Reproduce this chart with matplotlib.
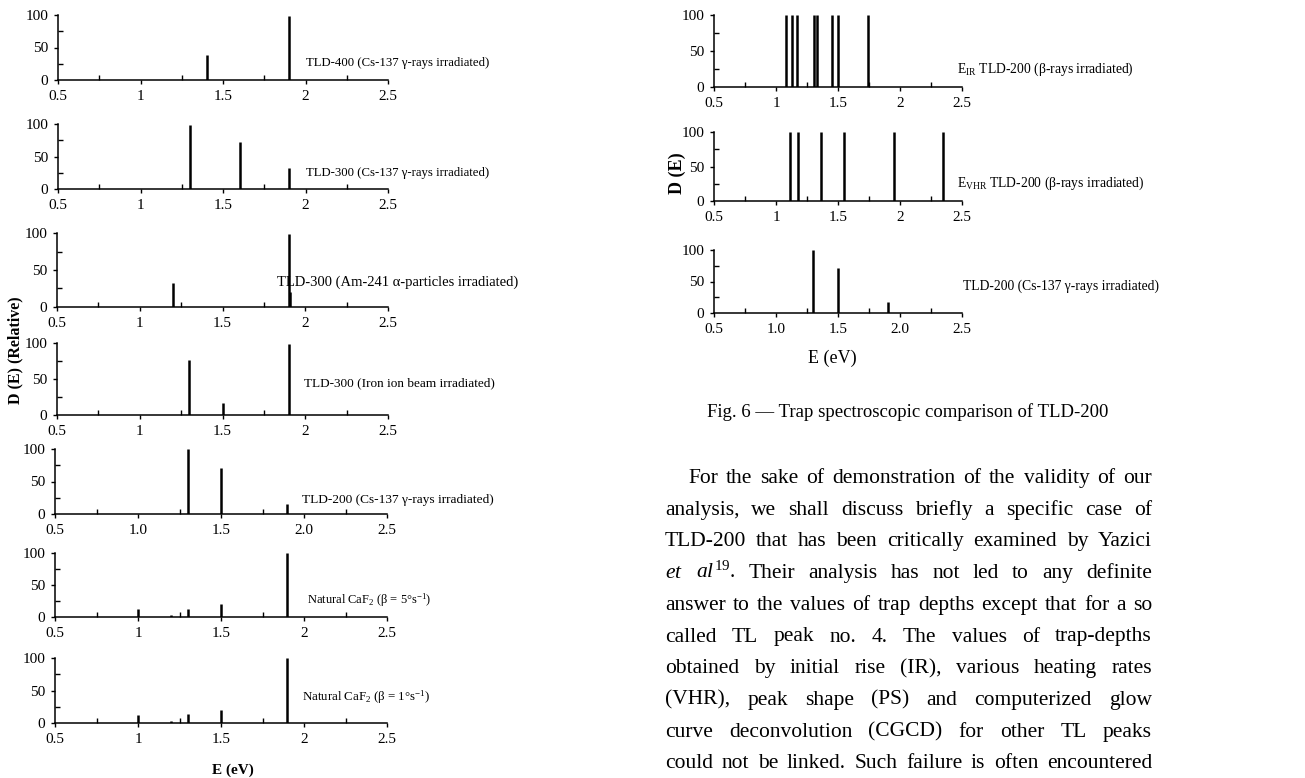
import numpy as np
import matplotlib.pyplot as plt
from matplotlib.ticker import FixedLocator, FormatStrFormatter

plt.rcParams['font.family'] = ['Liberation Serif', 'DejaVu Serif']
plt.rcParams['mathtext.fontset'] = 'custom'
plt.rcParams['mathtext.rm'] = 'Liberation Serif'
plt.rcParams['mathtext.it'] = 'Liberation Serif:italic'
plt.rcParams['mathtext.bf'] = 'Liberation Serif:bold'

W, H = 1305, 778

# left figure: trap spectra of several TLD materials
left_labels = [
    "TLD-400 (Cs-137 γ-rays irradiated)",
    "TLD-300 (Cs-137 γ-rays irradiated)",
    "TLD-300 (Am-241 α-particles irradiated)",
    "TLD-300 (Iron ion beam irradiated)",
    "TLD-200 (Cs-137 γ-rays irradiated)",
    r"Natural CaF$_2$ (β = 5°s$^{-1}$)",
    r"Natural CaF$_2$ (β = 1°s$^{-1}$)",
]
left_E = [
    [1.4, 1.9],
    [1.3, 1.6, 1.9],
    [1.2, 1.9, 1.91],
    [1.3, 1.5, 1.9],
    [1.3, 1.5, 1.9],
    [1.0, 1.2, 1.3, 1.5, 1.9],
    [1.0, 1.2, 1.3, 1.5, 1.9],
]
left_D = [
    [38, 98],
    [98, 72, 33],
    [32, 98, 20],
    [77, 16, 98],
    [100, 71, 15],
    [12, 3, 13, 20, 100],
    [12, 3, 14, 20, 100],
]

# right figure: Fig. 6, TLD-200
right_labels = [
    r"E$_{\mathrm{IR}}$ TLD-200 (β-rays irradiated)",
    r"E$_{\mathrm{VHR}}$ TLD-200 (β-rays irradiated)",
    "TLD-200 (Cs-137 γ-rays irradiated)",
]
right_E = [
    [1.08, 1.13, 1.17, 1.31, 1.33, 1.45, 1.50, 1.74],
    [1.11, 1.18, 1.36, 1.55, 1.95, 2.35],
    [1.3, 1.5, 1.9],
]
right_D = [
    [100, 100, 100, 100, 100, 100, 100, 100],
    [100, 100, 100, 100, 100, 100],
    [100, 71, 17],
]

caption = "Fig. 6 — Trap spectroscopic comparison of TLD-200"
para = [
    "For the sake of demonstration of the validity of our",
    "analysis, we shall discuss briefly a specific case of",
    "TLD-200 that has been critically examined by Yazici",
    r"$\mathit{et}$ $\mathit{al}^{19}$. Their analysis has not led to any definite",
    "answer to the values of trap depths except that for a so",
    "called TL peak no. 4. The values of trap-depths",
    "obtained by initial rise (IR), various heating rates",
    "(VHR), peak shape (PS) and computerized glow",
    "curve deconvolution (CGCD) for other TL peaks",
    "could not be linked. Such failure is often encountered",
]

fig = plt.figure(figsize=(W / 100, H / 100), dpi=100)


def add_ax(l, r, top, bot):
    return fig.add_axes([l / W, 1 - bot / H, (r - l) / W, (bot - top) / H])


def style(ax, fmt=None):
    ax.set_xlim(0.5, 2.5)
    ax.set_ylim(0, 100)
    for s in ['top', 'right']:
        ax.spines[s].set_visible(False)
    for s in ['left', 'bottom']:
        ax.spines[s].set_linewidth(1.1)
    ax.set_xticks([0.5, 1, 1.5, 2, 2.5])
    ax.xaxis.set_minor_locator(FixedLocator([0.75, 1.25, 1.75, 2.25]))
    ax.set_yticks([0, 50, 100])
    ax.yaxis.set_minor_locator(FixedLocator([25, 75]))
    if fmt:
        ax.xaxis.set_major_formatter(FormatStrFormatter(fmt))
    else:
        ax.set_xticklabels(['0.5', '1', '1.5', '2', '2.5'])
    ax.tick_params(which='major', direction='out', length=3, width=1, labelsize=11, pad=4)
    ax.tick_params(which='minor', direction='in', length=3.5, width=1)


# left panel
left_box = [(58, 388, 15, 80), (58, 388, 124, 189), (57, 388, 233, 307),
            (57, 388, 343, 415), (55, 387, 449, 514), (55, 387, 553, 617),
            (55, 387, 658, 723)]
left_txt = [(2.0, 26), (2.0, 25), (1.83, 34), (1.99, 44), (1.99, 21), (2.02, 27), (1.99, 40)]
left_fs = [9.2, 9.2, 10.5, 9.5, 9.6, 9.0, 9.3]
for i in range(7):
    ax = add_ax(*left_box[i])
    style(ax, '%.1f' if i == 4 else None)
    ax.vlines(left_E[i], 0, left_D[i], color='black', lw=1.8)
    ax.text(left_txt[i][0], left_txt[i][1], left_labels[i], fontsize=left_fs[i],
            ha='left', va='center', clip_on=False)

fig.text(233 / W, 1 - 770 / H, "E (eV)", fontsize=11, fontweight='bold',
         ha='center', va='center')
fig.text(15 / W, 1 - 350 / H, "D (E) (Relative)", rotation=90, fontsize=11.5,
         fontweight='bold', ha='center', va='center')

# right panel
right_box = [(714, 962, 15, 87), (714, 962, 132, 201), (714, 962, 250, 313)]
right_txt = [(2.46, 24), (2.46, 26), (2.51, 43)]
for i in range(3):
    ax = add_ax(*right_box[i])
    style(ax, '%.1f' if i == 2 else None)
    ax.vlines(right_E[i], 0, right_D[i], color='black', lw=1.8)
    ax.text(right_txt[i][0], right_txt[i][1], right_labels[i], fontsize=9.8,
            ha='left', va='center', clip_on=False)

fig.text(832 / W, 1 - 358 / H, "E (eV)", fontsize=13, ha='center', va='center')
fig.text(677 / W, 1 - 173 / H, "D (E)", rotation=90, fontsize=13,
         fontweight='bold', ha='center', va='center')

fig.text(908 / W, 1 - 417 / H, caption, fontsize=13.5, ha='center', va='baseline')

# justified paragraph
renderer = fig.canvas.get_renderer()
x_left, x_right = 665, 1152
for k, line in enumerate(para):
    y = 1 - (483 + k * 31.7) / H
    x0 = 688 if k == 0 else x_left
    words = line.split(' ')
    texts = [fig.text(0, y, w, fontsize=15.5, va='baseline') for w in words]
    widths = [t.get_window_extent(renderer).width for t in texts]
    gap = (x_right - x0 - sum(widths)) / (len(words) - 1)
    x = x0
    for t, w in zip(texts, widths):
        t.set_x(x / W)
        x += w + gap

fig.savefig('out.png', dpi=100)
